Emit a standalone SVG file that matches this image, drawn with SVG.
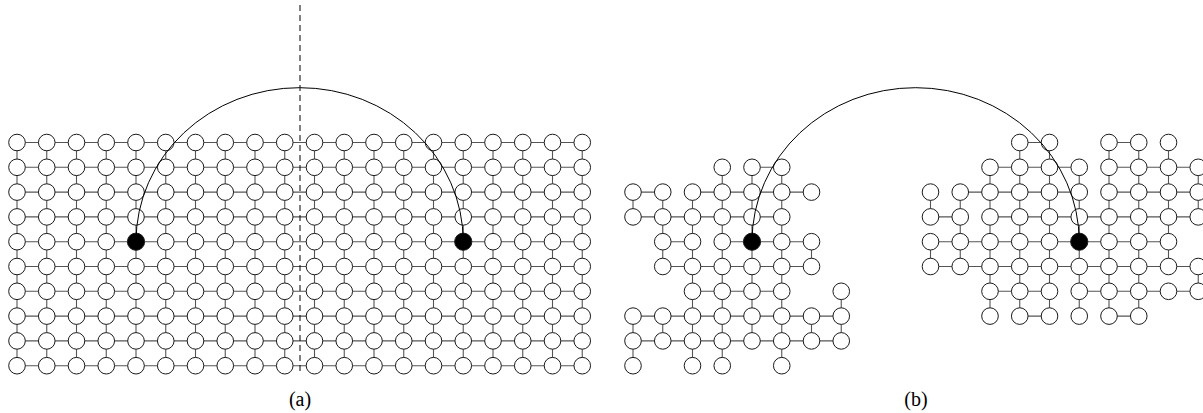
<svg xmlns="http://www.w3.org/2000/svg" width="1203" height="413" viewBox="0 0 1203 413">
<style>
.e{fill:none;stroke:#555;stroke-width:1.1}
.nodes circle{fill:#fff;stroke:#1a1a1a;stroke-width:1;r:8.3px}
.nodes circle.b{fill:#000;r:8.6px}
.arc{fill:none;stroke:#000;stroke-width:1}
.cut{fill:none;stroke:#000;stroke-width:1;stroke-dasharray:6 4}
text{font-family:"Liberation Serif","DejaVu Serif",serif;font-size:20px;fill:#000;text-anchor:middle}
</style>
<rect width="1203" height="413" fill="#fff"/>

<!-- ===== Panel (a) ===== -->
<g id="connectors-a">
<path class="e" d="M17,142.5H582.25M17,167.3H582.25M17,192.1H582.25M17,216.9H582.25M17,241.7H582.25M17,266.5H582.25M17,291.3H582.25M17,316.1H582.25M17,340.9H582.25M17,365.7H582.25
M17,142.5V365.7M46.75,142.5V365.7M76.5,142.5V365.7M106.25,142.5V365.7M136,142.5V365.7M165.75,142.5V365.7M195.5,142.5V365.7M225.25,142.5V365.7M255,142.5V365.7M284.75,142.5V365.7M314.5,142.5V365.7M344.25,142.5V365.7M374,142.5V365.7M403.75,142.5V365.7M433.5,142.5V365.7M463.25,142.5V365.7M493,142.5V365.7M522.75,142.5V365.7M552.5,142.5V365.7M582.25,142.5V365.7"/>
</g>
<g id="nodes-a" class="nodes">
<g id="a-row0" transform="translate(0,142.5)"><circle id="a-0-0" cx="17"/><circle id="a-0-1" cx="46.75"/><circle id="a-0-2" cx="76.5"/><circle id="a-0-3" cx="106.25"/><circle id="a-0-4" cx="136"/><circle id="a-0-5" cx="165.75"/><circle id="a-0-6" cx="195.5"/><circle id="a-0-7" cx="225.25"/><circle id="a-0-8" cx="255"/><circle id="a-0-9" cx="284.75"/><circle id="a-0-10" cx="314.5"/><circle id="a-0-11" cx="344.25"/><circle id="a-0-12" cx="374"/><circle id="a-0-13" cx="403.75"/><circle id="a-0-14" cx="433.5"/><circle id="a-0-15" cx="463.25"/><circle id="a-0-16" cx="493"/><circle id="a-0-17" cx="522.75"/><circle id="a-0-18" cx="552.5"/><circle id="a-0-19" cx="582.25"/></g>
<g id="a-row1" transform="translate(0,167.3)"><circle id="a-1-0" cx="17"/><circle id="a-1-1" cx="46.75"/><circle id="a-1-2" cx="76.5"/><circle id="a-1-3" cx="106.25"/><circle id="a-1-4" cx="136"/><circle id="a-1-5" cx="165.75"/><circle id="a-1-6" cx="195.5"/><circle id="a-1-7" cx="225.25"/><circle id="a-1-8" cx="255"/><circle id="a-1-9" cx="284.75"/><circle id="a-1-10" cx="314.5"/><circle id="a-1-11" cx="344.25"/><circle id="a-1-12" cx="374"/><circle id="a-1-13" cx="403.75"/><circle id="a-1-14" cx="433.5"/><circle id="a-1-15" cx="463.25"/><circle id="a-1-16" cx="493"/><circle id="a-1-17" cx="522.75"/><circle id="a-1-18" cx="552.5"/><circle id="a-1-19" cx="582.25"/></g>
<g id="a-row2" transform="translate(0,192.1)"><circle id="a-2-0" cx="17"/><circle id="a-2-1" cx="46.75"/><circle id="a-2-2" cx="76.5"/><circle id="a-2-3" cx="106.25"/><circle id="a-2-4" cx="136"/><circle id="a-2-5" cx="165.75"/><circle id="a-2-6" cx="195.5"/><circle id="a-2-7" cx="225.25"/><circle id="a-2-8" cx="255"/><circle id="a-2-9" cx="284.75"/><circle id="a-2-10" cx="314.5"/><circle id="a-2-11" cx="344.25"/><circle id="a-2-12" cx="374"/><circle id="a-2-13" cx="403.75"/><circle id="a-2-14" cx="433.5"/><circle id="a-2-15" cx="463.25"/><circle id="a-2-16" cx="493"/><circle id="a-2-17" cx="522.75"/><circle id="a-2-18" cx="552.5"/><circle id="a-2-19" cx="582.25"/></g>
<g id="a-row3" transform="translate(0,216.9)"><circle id="a-3-0" cx="17"/><circle id="a-3-1" cx="46.75"/><circle id="a-3-2" cx="76.5"/><circle id="a-3-3" cx="106.25"/><circle id="a-3-4" cx="136"/><circle id="a-3-5" cx="165.75"/><circle id="a-3-6" cx="195.5"/><circle id="a-3-7" cx="225.25"/><circle id="a-3-8" cx="255"/><circle id="a-3-9" cx="284.75"/><circle id="a-3-10" cx="314.5"/><circle id="a-3-11" cx="344.25"/><circle id="a-3-12" cx="374"/><circle id="a-3-13" cx="403.75"/><circle id="a-3-14" cx="433.5"/><circle id="a-3-15" cx="463.25"/><circle id="a-3-16" cx="493"/><circle id="a-3-17" cx="522.75"/><circle id="a-3-18" cx="552.5"/><circle id="a-3-19" cx="582.25"/></g>
<g id="a-row4" transform="translate(0,241.7)"><circle id="a-4-0" cx="17"/><circle id="a-4-1" cx="46.75"/><circle id="a-4-2" cx="76.5"/><circle id="a-4-3" cx="106.25"/><circle id="a-4-4" class="b" cx="136"/><circle id="a-4-5" cx="165.75"/><circle id="a-4-6" cx="195.5"/><circle id="a-4-7" cx="225.25"/><circle id="a-4-8" cx="255"/><circle id="a-4-9" cx="284.75"/><circle id="a-4-10" cx="314.5"/><circle id="a-4-11" cx="344.25"/><circle id="a-4-12" cx="374"/><circle id="a-4-13" cx="403.75"/><circle id="a-4-14" cx="433.5"/><circle id="a-4-15" class="b" cx="463.25"/><circle id="a-4-16" cx="493"/><circle id="a-4-17" cx="522.75"/><circle id="a-4-18" cx="552.5"/><circle id="a-4-19" cx="582.25"/></g>
<g id="a-row5" transform="translate(0,266.5)"><circle id="a-5-0" cx="17"/><circle id="a-5-1" cx="46.75"/><circle id="a-5-2" cx="76.5"/><circle id="a-5-3" cx="106.25"/><circle id="a-5-4" cx="136"/><circle id="a-5-5" cx="165.75"/><circle id="a-5-6" cx="195.5"/><circle id="a-5-7" cx="225.25"/><circle id="a-5-8" cx="255"/><circle id="a-5-9" cx="284.75"/><circle id="a-5-10" cx="314.5"/><circle id="a-5-11" cx="344.25"/><circle id="a-5-12" cx="374"/><circle id="a-5-13" cx="403.75"/><circle id="a-5-14" cx="433.5"/><circle id="a-5-15" cx="463.25"/><circle id="a-5-16" cx="493"/><circle id="a-5-17" cx="522.75"/><circle id="a-5-18" cx="552.5"/><circle id="a-5-19" cx="582.25"/></g>
<g id="a-row6" transform="translate(0,291.3)"><circle id="a-6-0" cx="17"/><circle id="a-6-1" cx="46.75"/><circle id="a-6-2" cx="76.5"/><circle id="a-6-3" cx="106.25"/><circle id="a-6-4" cx="136"/><circle id="a-6-5" cx="165.75"/><circle id="a-6-6" cx="195.5"/><circle id="a-6-7" cx="225.25"/><circle id="a-6-8" cx="255"/><circle id="a-6-9" cx="284.75"/><circle id="a-6-10" cx="314.5"/><circle id="a-6-11" cx="344.25"/><circle id="a-6-12" cx="374"/><circle id="a-6-13" cx="403.75"/><circle id="a-6-14" cx="433.5"/><circle id="a-6-15" cx="463.25"/><circle id="a-6-16" cx="493"/><circle id="a-6-17" cx="522.75"/><circle id="a-6-18" cx="552.5"/><circle id="a-6-19" cx="582.25"/></g>
<g id="a-row7" transform="translate(0,316.1)"><circle id="a-7-0" cx="17"/><circle id="a-7-1" cx="46.75"/><circle id="a-7-2" cx="76.5"/><circle id="a-7-3" cx="106.25"/><circle id="a-7-4" cx="136"/><circle id="a-7-5" cx="165.75"/><circle id="a-7-6" cx="195.5"/><circle id="a-7-7" cx="225.25"/><circle id="a-7-8" cx="255"/><circle id="a-7-9" cx="284.75"/><circle id="a-7-10" cx="314.5"/><circle id="a-7-11" cx="344.25"/><circle id="a-7-12" cx="374"/><circle id="a-7-13" cx="403.75"/><circle id="a-7-14" cx="433.5"/><circle id="a-7-15" cx="463.25"/><circle id="a-7-16" cx="493"/><circle id="a-7-17" cx="522.75"/><circle id="a-7-18" cx="552.5"/><circle id="a-7-19" cx="582.25"/></g>
<g id="a-row8" transform="translate(0,340.9)"><circle id="a-8-0" cx="17"/><circle id="a-8-1" cx="46.75"/><circle id="a-8-2" cx="76.5"/><circle id="a-8-3" cx="106.25"/><circle id="a-8-4" cx="136"/><circle id="a-8-5" cx="165.75"/><circle id="a-8-6" cx="195.5"/><circle id="a-8-7" cx="225.25"/><circle id="a-8-8" cx="255"/><circle id="a-8-9" cx="284.75"/><circle id="a-8-10" cx="314.5"/><circle id="a-8-11" cx="344.25"/><circle id="a-8-12" cx="374"/><circle id="a-8-13" cx="403.75"/><circle id="a-8-14" cx="433.5"/><circle id="a-8-15" cx="463.25"/><circle id="a-8-16" cx="493"/><circle id="a-8-17" cx="522.75"/><circle id="a-8-18" cx="552.5"/><circle id="a-8-19" cx="582.25"/></g>
<g id="a-row9" transform="translate(0,365.7)"><circle id="a-9-0" cx="17"/><circle id="a-9-1" cx="46.75"/><circle id="a-9-2" cx="76.5"/><circle id="a-9-3" cx="106.25"/><circle id="a-9-4" cx="136"/><circle id="a-9-5" cx="165.75"/><circle id="a-9-6" cx="195.5"/><circle id="a-9-7" cx="225.25"/><circle id="a-9-8" cx="255"/><circle id="a-9-9" cx="284.75"/><circle id="a-9-10" cx="314.5"/><circle id="a-9-11" cx="344.25"/><circle id="a-9-12" cx="374"/><circle id="a-9-13" cx="403.75"/><circle id="a-9-14" cx="433.5"/><circle id="a-9-15" cx="463.25"/><circle id="a-9-16" cx="493"/><circle id="a-9-17" cx="522.75"/><circle id="a-9-18" cx="552.5"/><circle id="a-9-19" cx="582.25"/></g>
</g>
<g id="overlay-a">
<path class="arc" d="M136,241.7A163.6,154 0 0 1 463.25,241.7"/>
<path class="cut" d="M300,5V372"/>
</g>
<text id="label-a" x="300" y="406">(a)</text>

<!-- ===== Panel (b) ===== -->
<g id="panel-b" transform="translate(616,0)">
<g id="connectors-b">
<path class="e" d="M136,167.3H165.75
M17,192.1H46.75M76.5,192.1H195.5
M17,216.9H165.75
M46.75,241.7H76.5M106.25,241.7H195.5
M46.75,266.5H195.5
M76.5,291.3H165.75
M17,316.1H225.25
M17,340.9H225.25
M17,192.1V216.9M17,316.1V365.7
M46.75,192.1V266.5M46.75,316.1V340.9
M76.5,192.1V365.7
M106.25,167.3V365.7
M136,167.3V340.9
M165.75,167.3V365.7
M195.5,241.7V266.5M195.5,316.1V340.9
M225.25,291.3V340.9"/>
<path class="e" d="M403.75,142.5H433.5M493,142.5H522.75
M374,167.3H463.25M493,167.3H582.25
M344.25,192.1H463.25M493,192.1H582.25
M314.5,216.9H344.25M374,216.9H582.25
M314.5,241.7H552.5
M314.5,266.5H582.25
M374,291.3H433.5M463.25,291.3H582.25
M403.75,316.1H433.5M493,316.1H522.75
M314.5,192.1V216.9M314.5,241.7V266.5
M344.25,192.1V266.5
M374,167.3V316.1
M403.75,142.5V316.1
M433.5,142.5V316.1
M463.25,167.3V316.1
M493,142.5V316.1
M522.75,142.5V316.1
M552.5,142.5V266.5
M582.25,167.3V216.9M582.25,266.5V291.3"/>
</g>
<g id="nodes-b" class="nodes">
<g id="b-row0" transform="translate(0,142.5)"><circle id="b-0-13" cx="403.75"/><circle id="b-0-14" cx="433.5"/><circle id="b-0-16" cx="493"/><circle id="b-0-17" cx="522.75"/><circle id="b-0-18" cx="552.5"/></g>
<g id="b-row1" transform="translate(0,167.3)"><circle id="b-1-3" cx="106.25"/><circle id="b-1-4" cx="136"/><circle id="b-1-5" cx="165.75"/><circle id="b-1-12" cx="374"/><circle id="b-1-13" cx="403.75"/><circle id="b-1-14" cx="433.5"/><circle id="b-1-15" cx="463.25"/><circle id="b-1-16" cx="493"/><circle id="b-1-17" cx="522.75"/><circle id="b-1-18" cx="552.5"/><circle id="b-1-19" cx="582.25"/></g>
<g id="b-row2" transform="translate(0,192.1)"><circle id="b-2-0" cx="17"/><circle id="b-2-1" cx="46.75"/><circle id="b-2-2" cx="76.5"/><circle id="b-2-3" cx="106.25"/><circle id="b-2-4" cx="136"/><circle id="b-2-5" cx="165.75"/><circle id="b-2-6" cx="195.5"/><circle id="b-2-10" cx="314.5"/><circle id="b-2-11" cx="344.25"/><circle id="b-2-12" cx="374"/><circle id="b-2-13" cx="403.75"/><circle id="b-2-14" cx="433.5"/><circle id="b-2-15" cx="463.25"/><circle id="b-2-16" cx="493"/><circle id="b-2-17" cx="522.75"/><circle id="b-2-18" cx="552.5"/><circle id="b-2-19" cx="582.25"/></g>
<g id="b-row3" transform="translate(0,216.9)"><circle id="b-3-0" cx="17"/><circle id="b-3-1" cx="46.75"/><circle id="b-3-2" cx="76.5"/><circle id="b-3-3" cx="106.25"/><circle id="b-3-4" cx="136"/><circle id="b-3-5" cx="165.75"/><circle id="b-3-10" cx="314.5"/><circle id="b-3-11" cx="344.25"/><circle id="b-3-12" cx="374"/><circle id="b-3-13" cx="403.75"/><circle id="b-3-14" cx="433.5"/><circle id="b-3-15" cx="463.25"/><circle id="b-3-16" cx="493"/><circle id="b-3-17" cx="522.75"/><circle id="b-3-18" cx="552.5"/><circle id="b-3-19" cx="582.25"/></g>
<g id="b-row4" transform="translate(0,241.7)"><circle id="b-4-1" cx="46.75"/><circle id="b-4-2" cx="76.5"/><circle id="b-4-3" cx="106.25"/><circle id="b-4-4" class="b" cx="136"/><circle id="b-4-5" cx="165.75"/><circle id="b-4-6" cx="195.5"/><circle id="b-4-10" cx="314.5"/><circle id="b-4-11" cx="344.25"/><circle id="b-4-12" cx="374"/><circle id="b-4-13" cx="403.75"/><circle id="b-4-14" cx="433.5"/><circle id="b-4-15" class="b" cx="463.25"/><circle id="b-4-16" cx="493"/><circle id="b-4-17" cx="522.75"/><circle id="b-4-18" cx="552.5"/></g>
<g id="b-row5" transform="translate(0,266.5)"><circle id="b-5-1" cx="46.75"/><circle id="b-5-2" cx="76.5"/><circle id="b-5-3" cx="106.25"/><circle id="b-5-4" cx="136"/><circle id="b-5-5" cx="165.75"/><circle id="b-5-6" cx="195.5"/><circle id="b-5-10" cx="314.5"/><circle id="b-5-11" cx="344.25"/><circle id="b-5-12" cx="374"/><circle id="b-5-13" cx="403.75"/><circle id="b-5-14" cx="433.5"/><circle id="b-5-15" cx="463.25"/><circle id="b-5-16" cx="493"/><circle id="b-5-17" cx="522.75"/><circle id="b-5-18" cx="552.5"/><circle id="b-5-19" cx="582.25"/></g>
<g id="b-row6" transform="translate(0,291.3)"><circle id="b-6-2" cx="76.5"/><circle id="b-6-3" cx="106.25"/><circle id="b-6-4" cx="136"/><circle id="b-6-5" cx="165.75"/><circle id="b-6-7" cx="225.25"/><circle id="b-6-12" cx="374"/><circle id="b-6-13" cx="403.75"/><circle id="b-6-14" cx="433.5"/><circle id="b-6-15" cx="463.25"/><circle id="b-6-16" cx="493"/><circle id="b-6-17" cx="522.75"/><circle id="b-6-18" cx="552.5"/><circle id="b-6-19" cx="582.25"/></g>
<g id="b-row7" transform="translate(0,316.1)"><circle id="b-7-0" cx="17"/><circle id="b-7-1" cx="46.75"/><circle id="b-7-2" cx="76.5"/><circle id="b-7-3" cx="106.25"/><circle id="b-7-4" cx="136"/><circle id="b-7-5" cx="165.75"/><circle id="b-7-6" cx="195.5"/><circle id="b-7-7" cx="225.25"/><circle id="b-7-12" cx="374"/><circle id="b-7-13" cx="403.75"/><circle id="b-7-14" cx="433.5"/><circle id="b-7-15" cx="463.25"/><circle id="b-7-16" cx="493"/><circle id="b-7-17" cx="522.75"/></g>
<g id="b-row8" transform="translate(0,340.9)"><circle id="b-8-0" cx="17"/><circle id="b-8-1" cx="46.75"/><circle id="b-8-2" cx="76.5"/><circle id="b-8-3" cx="106.25"/><circle id="b-8-4" cx="136"/><circle id="b-8-5" cx="165.75"/><circle id="b-8-6" cx="195.5"/><circle id="b-8-7" cx="225.25"/></g>
<g id="b-row9" transform="translate(0,365.7)"><circle id="b-9-0" cx="17"/><circle id="b-9-2" cx="76.5"/><circle id="b-9-3" cx="106.25"/><circle id="b-9-5" cx="165.75"/></g>
</g>
<g id="overlay-b">
<path class="arc" d="M136,241.7A163.6,154 0 0 1 463.25,241.7"/>
</g>
</g>
<text id="label-b" x="916" y="406">(b)</text>
</svg>
